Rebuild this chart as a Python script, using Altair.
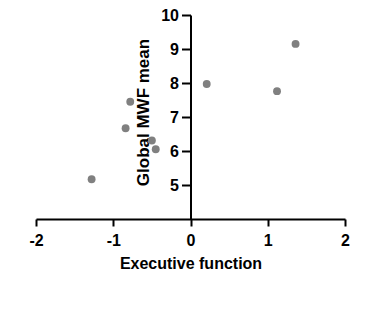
import altair as alt
import pandas as pd

exec_fn = [-1.28, -0.84, -0.78, -0.50, -0.45, 0.21, 1.12, 1.36]
mwf = [5.17, 6.67, 7.45, 6.31, 6.05, 7.97, 7.76, 9.15]
x_ticks = [-2, -1, 0, 1, 2]
y_ticks = [5, 6, 7, 8, 9, 10]

df = pd.DataFrame({"x": exec_fn, "y": mwf})

FONT = "Liberation Sans"
W = 309
H = 204

chart = alt.Chart(df).mark_circle(size=62, color="#808080", opacity=1).encode(
    x=alt.X("x:Q", scale=alt.Scale(domain=[-2, 2], nice=False, zero=False),
            axis=alt.Axis(values=x_ticks, title="Executive function",
                          labelExpr="'' + datum.value",
                          tickSize=7, labelPadding=6,
                          titleBaseline="alphabetic", titleY=49)),
    y=alt.Y("y:Q", scale=alt.Scale(domain=[4, 10], nice=False, zero=False),
            axis=alt.Axis(values=y_ticks, title="Global MWF mean",
                          labelExpr="'' + datum.value",
                          offset=-W / 2, tickSize=9, labelPadding=3,
                          titleFontSize=17,
                          titleAngle=270, titleAlign="center",
                          titleBaseline="middle", titleX=-47, titleY=97)),
).properties(
    width=W, height=H,
    autosize=alt.AutoSizeParams(type="none"),
    padding={"left": 28, "top": 7, "right": 20, "bottom": 70},
).configure_view(stroke=None).configure_axis(
    grid=False, domainColor="black", domainWidth=2, tickColor="black", tickWidth=2,
    labelFont=FONT, labelFontSize=16, labelFontWeight="bold", labelColor="black",
    labelFlush=False,
    titleFont=FONT, titleFontSize=16, titleFontWeight="bold", titleColor="black",
)

chart.save("out.html", embed_options={"renderer": "svg", "actions": False})
